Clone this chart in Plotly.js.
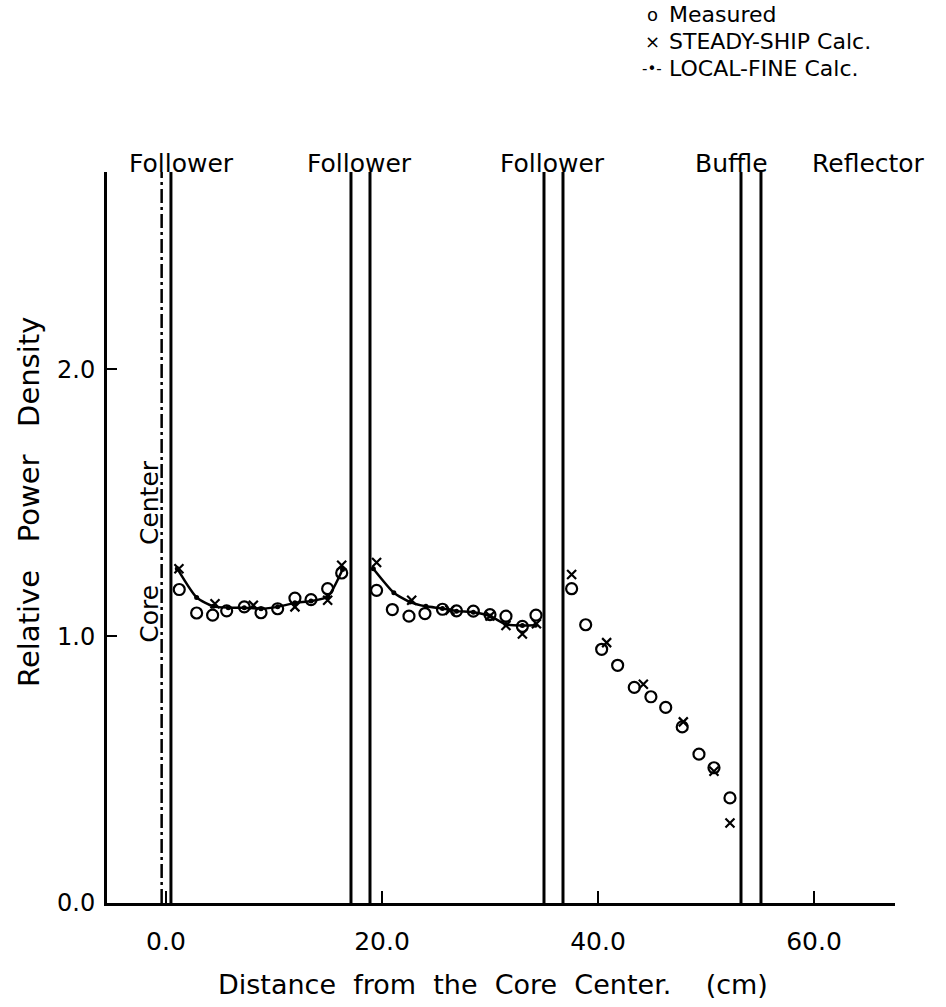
<!DOCTYPE html>
<html>
<head>
<meta charset="utf-8">
<script src="https://cdn.plot.ly/plotly-3.0.1.min.js"></script>
<style>html,body{margin:0;padding:0;background:#fff;}#chart{width:946px;height:1007px;}</style>
</head>
<body>
<div id="chart"></div>
<script>
// ---- data ----
const measuredX = [1.23, 2.84, 4.32, 5.62, 7.25, 8.8, 10.34, 11.94, 13.43, 14.97, 16.27,
                   19.5, 20.96, 22.5, 23.98, 25.6, 26.9, 28.46, 30.0, 31.48, 33.0, 34.26,
                   37.56, 38.86, 40.34, 41.82, 43.36, 44.9, 46.27, 47.8, 49.35, 50.74, 52.22];
const measuredY = [1.175, 1.087, 1.079, 1.095, 1.110, 1.088, 1.103, 1.143, 1.137, 1.178, 1.237,
                   1.172, 1.100, 1.075, 1.085, 1.101, 1.095, 1.094, 1.081, 1.075, 1.037, 1.079,
                   1.178, 1.043, 0.951, 0.891, 0.808, 0.773, 0.733, 0.660, 0.558, 0.507, 0.394];

const steadyX = [1.2, 4.54, 8.09, 11.94, 14.97, 16.27,
                 19.5, 22.75, 26.3, 30.0, 31.48, 33.0, 34.3,
                 37.56, 40.8, 44.2, 47.9, 50.74, 52.22];
const steadyY = [1.253, 1.122, 1.116, 1.110, 1.135, 1.266,
                 1.276, 1.135, 1.097, 1.076, 1.040, 1.008, 1.047,
                 1.231, 0.976, 0.820, 0.679, 0.494, 0.300];

const localFineX = [1.05, 2.84, 4.38, 5.77, 7.25, 8.8, 10.34, 11.94, 13.43, 14.97, 16.35,
                    null,
                    19.2, 21.1, 22.6, 24.07, 25.6, 26.9, 28.46, 30.0, 31.48, 33.0, 34.2];
const localFineY = [1.253, 1.145, 1.112, 1.107, 1.107, 1.103, 1.110, 1.125, 1.132, 1.148, 1.250,
                    null,
                    1.253, 1.163, 1.128, 1.112, 1.104, 1.094, 1.090, 1.076, 1.044, 1.040, 1.041];

const boundaryX = [0.46, 17.13, 18.89, 35.0, 36.76, 53.24, 55.09];
const coreCenterX = -0.4;

const xTickVals = [0, 20, 40, 60];
const xTickText = ['0.0', '20.0', '40.0', '60.0'];
const yTickVals = [0, 1, 2];
const yTickText = ['0.0', '1.0', '2.0'];

const regionLabels = ['Follower', 'Follower', 'Follower', 'Buffle', 'Reflector'];
const legendNames = ['Measured', 'STEADY-SHIP Calc.', 'LOCAL-FINE Calc.'];
const legendSymbols = ['o', '×', '-•-'];

// ---- layout helpers ----
const regionLabelPos = [0.094, 0.32, 0.565, 0.793, 0.966];
const legendY = [1.2155, 1.179, 1.1415];
const font = 'DejaVu Sans, sans-serif';

const traces = [
  {x: localFineX, y: localFineY, type: 'scatter', mode: 'lines+markers', name: legendNames[2],
   connectgaps: false, line: {color: '#000', width: 2.5, shape: 'spline', smoothing: 0.6},
   marker: {symbol: 'circle', size: 5, color: '#000'}},
  {x: measuredX, y: measuredY, type: 'scatter', mode: 'markers', name: legendNames[0],
   marker: {symbol: 'circle-open', size: 11, color: '#000', line: {width: 2.2, color: '#000'}}},
  {x: steadyX, y: steadyY, type: 'scatter', mode: 'markers', name: legendNames[1],
   marker: {symbol: 'x-thin-open', size: 9, color: '#000', line: {width: 2.2, color: '#000'}}}
];

const shapes = boundaryX.map(v => ({type: 'line', xref: 'x', yref: 'paper', x0: v, x1: v, y0: 0, y1: 1,
  line: {color: '#000', width: 3}}));
shapes.push({type: 'line', xref: 'x', yref: 'paper', x0: coreCenterX, x1: coreCenterX, y0: 0, y1: 1,
  line: {color: '#000', width: 2.5, dash: '14px,4px,3px,4px'}});

const annotations = [];
regionLabels.forEach((t, i) => annotations.push({text: t, xref: 'paper', yref: 'paper',
  x: regionLabelPos[i], y: 1.011, xanchor: 'center', yanchor: 'middle', showarrow: false,
  font: {family: font, size: 25, color: '#000'}}));
legendNames.forEach((t, i) => {
  annotations.push({text: t, xref: 'paper', yref: 'paper', x: 0.712, y: legendY[i],
    xanchor: 'left', yanchor: 'middle', showarrow: false, borderpad: 0,
    font: {family: font, size: 22, color: '#000'}});
  annotations.push({text: legendSymbols[i], xref: 'paper', yref: 'paper', x: 0.692, y: legendY[i],
    xanchor: 'center', yanchor: 'middle', showarrow: false, borderpad: 0,
    font: {family: font, size: i === 2 ? 15 : 18, color: '#000'}});
});
annotations.push({text: 'Core\u00A0\u00A0\u00A0\u00A0\u00A0Center', xref: 'paper', yref: 'paper', x: 0.054, y: 0.48,
  textangle: -90, xanchor: 'center', yanchor: 'middle', showarrow: false,
  font: {family: font, size: 25, color: '#000'}});
annotations.push({text: 'Relative\u00A0\u00A0\u00A0Power\u00A0\u00A0\u00A0Density', xref: 'paper', yref: 'paper',
  x: -0.1, y: 0.549, textangle: -90, xanchor: 'center', yanchor: 'middle', showarrow: false,
  font: {family: font, size: 29, color: '#000'}});
annotations.push({text: 'Distance\u00A0\u00A0from\u00A0\u00A0the\u00A0\u00A0Core\u00A0\u00A0Center.\u00A0\u00A0\u00A0\u00A0(cm)', xref: 'paper', yref: 'paper',
  x: 0.49, y: -0.112, xanchor: 'center', yanchor: 'middle', showarrow: false,
  font: {family: font, size: 27, color: '#000'}});

const layout = {
  width: 946, height: 1007,
  margin: {l: 107, r: 51, t: 172, b: 104},
  paper_bgcolor: '#fff', plot_bgcolor: '#fff',
  showlegend: false,
  xaxis: {range: [-5.46, 67.5], showgrid: false, zeroline: false, showline: true, linewidth: 3, linecolor: '#000',
    ticks: 'inside', ticklen: 12, tickwidth: 2, tickcolor: '#000', tickvals: xTickVals, ticktext: xTickText,
    tickfont: {family: font, size: 25, color: '#000'}, ticklabelstandoff: 14},
  yaxis: {range: [0, 2.74], showgrid: false, zeroline: false, showline: true, linewidth: 3, linecolor: '#000',
    ticks: 'inside', ticklen: 10, tickwidth: 2, tickcolor: '#000', tickvals: yTickVals, ticktext: yTickText,
    tickfont: {family: font, size: 24, color: '#000'}, ticklabelstandoff: 4},
  shapes: shapes,
  annotations: annotations
};

Plotly.newPlot('chart', traces, layout, {staticPlot: true, displayModeBar: false});
</script>
</body>
</html>
